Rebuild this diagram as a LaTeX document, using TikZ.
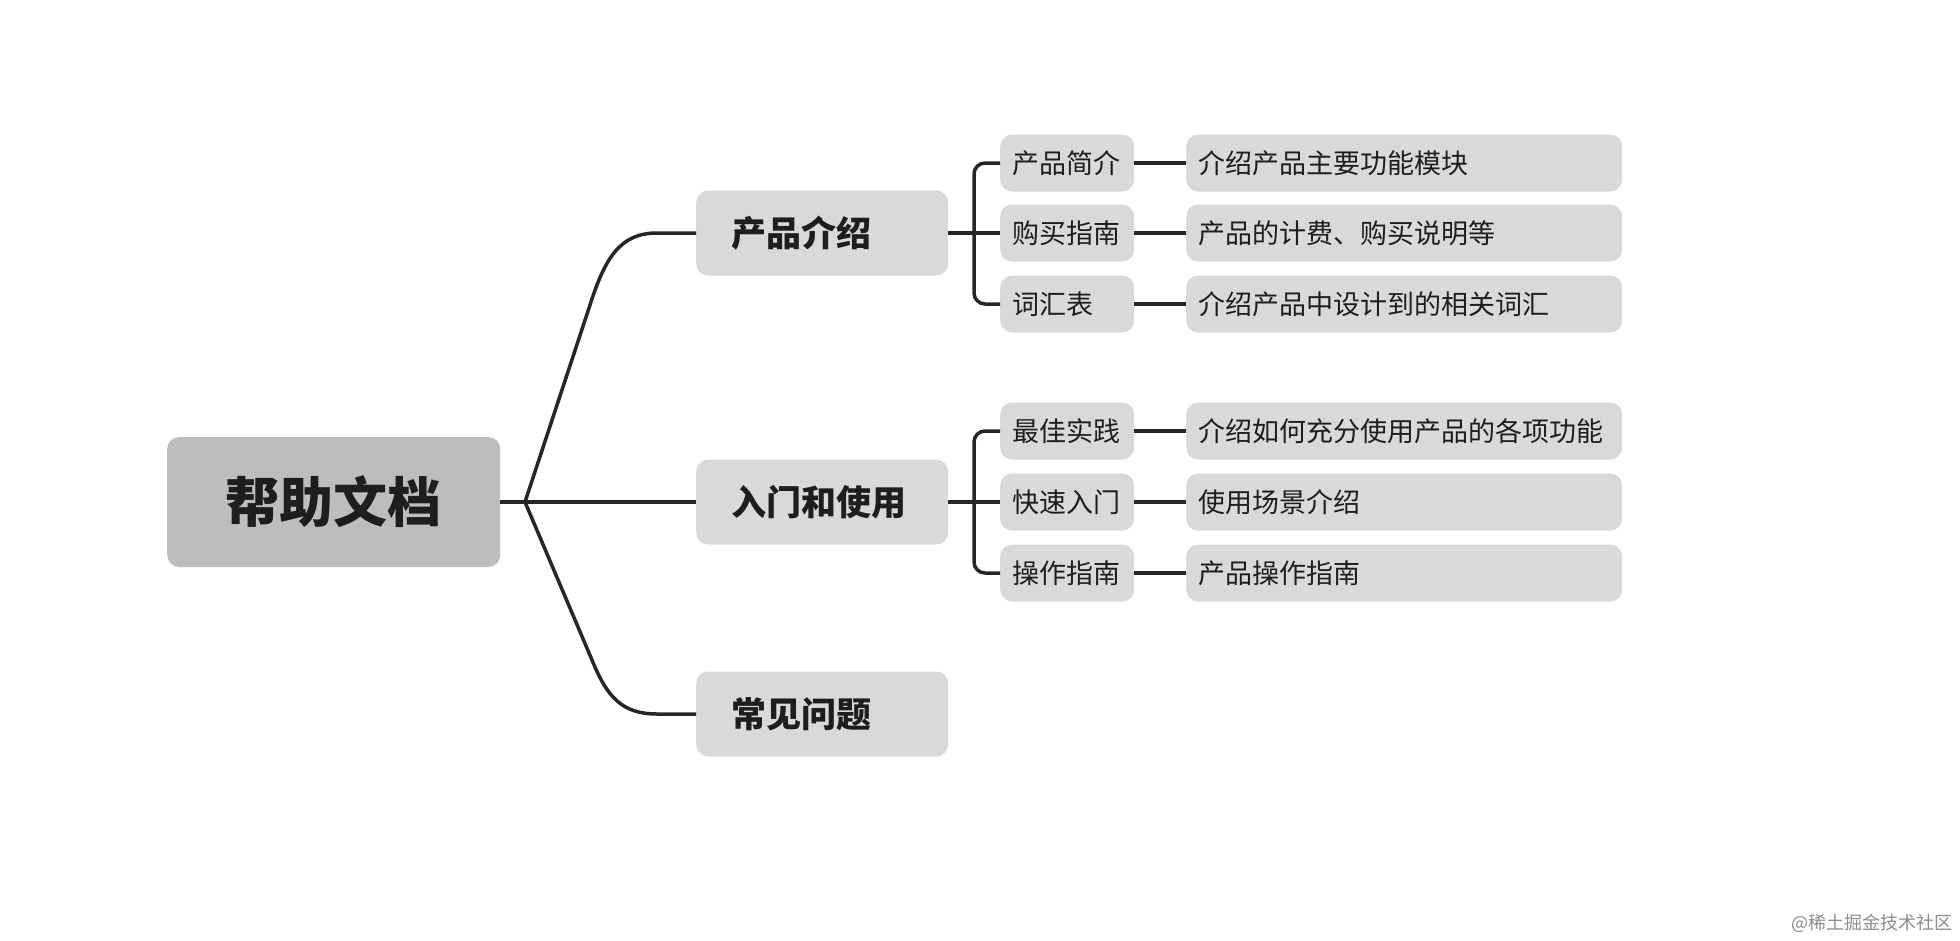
\documentclass[tikz,border=0pt]{standalone}
\usepackage{fontspec}
\newfontfamily\cjk{Noto Sans CJK SC}
\definecolor{linec}{HTML}{262626}
\definecolor{rootfill}{HTML}{BDBDBD}
\definecolor{boxfill}{HTML}{D9D9D9}
\definecolor{txt}{HTML}{1E1E1E}
\tikzset{
  base/.style={fill=boxfill, rounded corners=12pt, inner ysep=0pt, text=txt, font=\cjk},
  rootbox/.style={base, fill=rootfill, minimum width=333pt, minimum height=130pt, anchor=west,
     font=\cjk\bfseries\fontsize{54}{60}\selectfont},
  lvlone/.style={base, minimum width=252pt, minimum height=85pt, anchor=west, inner xsep=35pt,
     text width=182pt, align=left, font=\cjk\bfseries\fontsize{35}{40}\selectfont},
  lvltwo/.style={base, minimum width=134pt, minimum height=57pt, anchor=west, inner xsep=12pt,
     text width=110pt, align=left, font=\cjk\fontsize{27}{30}\selectfont},
  leafbox/.style={base, minimum width=436pt, minimum height=57pt, anchor=west, inner xsep=12pt,
     text width=412pt, align=left, font=\cjk\fontsize{27}{30}\selectfont},
  conn/.style={draw=linec, line width=3.5pt},
}
\begin{document}
\begin{tikzpicture}[x=1pt,y=-1pt]
\fill[white] (0,0) rectangle (1960,940);
\useasboundingbox (0,0) rectangle (1960,940);

\node[rootbox] (root) at (167,502) {帮助文档};

\node[lvlone] (p1) at (696,233) {产品介绍};
\node[lvlone] (p2) at (696,502) {入门和使用};
\node[lvlone] (p3) at (696,714) {常见问题};

\node[lvltwo] (c11) at (1000,163) {产品简介};
\node[lvltwo] (c12) at (1000,233) {购买指南};
\node[lvltwo] (c13) at (1000,304) {词汇表};
\node[lvltwo] (c21) at (1000,431) {最佳实践};
\node[lvltwo] (c22) at (1000,502) {快速入门};
\node[lvltwo] (c23) at (1000,573) {操作指南};

\node[leafbox] (l11) at (1186,163) {介绍产品主要功能模块};
\node[leafbox] (l12) at (1186,233) {产品的计费、购买说明等};
\node[leafbox] (l13) at (1186,304) {介绍产品中设计到的相关词汇};
\node[leafbox] (l21) at (1186,431) {介绍如何充分使用产品的各项功能};
\node[leafbox] (l22) at (1186,502) {使用场景介绍};
\node[leafbox] (l23) at (1186,573) {产品操作指南};

\coordinate (j) at (525,502);
\coordinate (b1) at (974,233);
\coordinate (b2) at (974,502);

\draw[conn] (root.east) -- (p2.west);
\draw[conn] (j) -- (590,305) .. controls (605,258) and (620,233) .. (657,233) -- (p1.west);
\draw[conn] (j) -- (592,660) .. controls (607,697) and (622,714) .. (657,714) -- (p3.west);

\draw[conn] (p1.east) -- (c12.west);
\draw[conn, rounded corners=11pt] (c11.west) -| (b1) |- (c13.west);
\draw[conn] (p2.east) -- (c22.west);
\draw[conn, rounded corners=11pt] (c21.west) -| (b2) |- (c23.west);

\draw[conn] (c11.east) -- (l11.west);
\draw[conn] (c12.east) -- (l12.west);
\draw[conn] (c13.east) -- (l13.west);
\draw[conn] (c21.east) -- (l21.west);
\draw[conn] (c22.east) -- (l22.west);
\draw[conn] (c23.east) -- (l23.west);

\node[anchor=east, text=black!45, font=\cjk\fontsize{18}{20}\selectfont, inner sep=0pt] (wm) at (1953,923) {@稀土掘金技术社区};
\end{tikzpicture}
\end{document}
